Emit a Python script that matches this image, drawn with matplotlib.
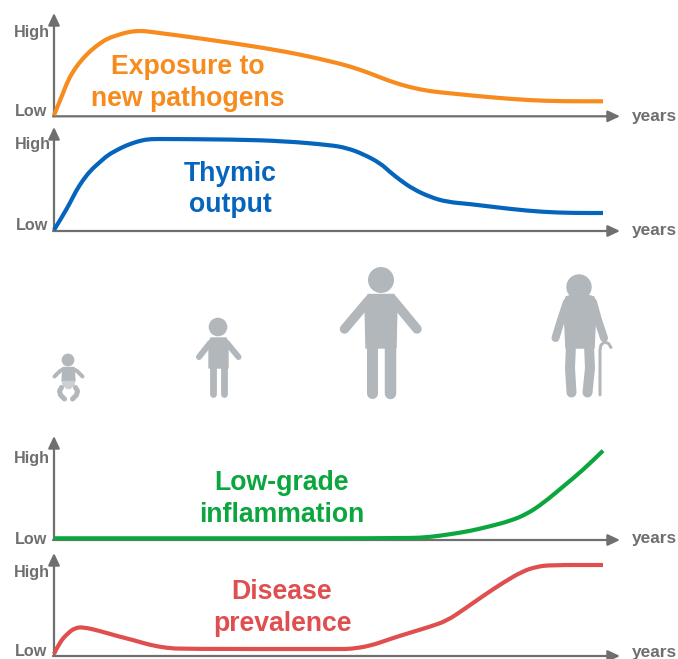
import matplotlib
matplotlib.use("Agg")
import matplotlib.pyplot as plt
from matplotlib.patches import Circle, PathPatch, Polygon
from matplotlib.path import Path

W, H = 678, 659
plt.rcParams["font.family"] = ["Liberation Sans", "DejaVu Sans"]
plt.rcParams["font.weight"] = "bold"

# curves: x = pixels right of the y axis, y = pixels above the x axis
exposure_x = [0, 4, 9, 14, 21, 29, 37, 46, 54, 63, 71, 79, 89, 100, 146, 213, 250, 276, 296, 316, 336, 356, 376, 396, 436, 476, 509, 549]
exposure_y = [1, 11, 23, 36, 48, 58, 66, 73, 78, 81, 83.5, 85, 85.5, 84, 78, 68, 61, 55, 50, 43, 35, 29, 25, 23, 19, 16, 15, 15]

thymic_x = [0, 8, 16, 22, 29, 37, 46, 54, 63, 71, 79, 87, 96, 113, 179, 229, 276, 293, 309, 326, 336, 346, 359, 376, 393, 416, 456, 489, 519, 549]
thymic_y = [1, 14, 28, 40, 51, 61, 69, 76, 81, 85, 88, 90.5, 92, 92, 91.5, 90, 86, 83, 77, 68, 59, 51, 42, 34, 29, 27, 22, 19, 18, 18]

inflam_x = [0, 200, 356, 376, 396, 416, 436, 456, 473, 489, 509, 529, 549]
inflam_y = [1.7, 1.7, 1.7, 3, 5.7, 9, 13.7, 19, 26, 36.7, 53.3, 70, 89.3]

disease_x = [0, 5, 14, 21, 29, 46, 63, 79, 96, 113, 129, 286, 296, 316, 336, 356, 376, 393, 409, 429, 449, 469, 483, 496, 549]
disease_y = [2, 13, 23, 28, 29, 25, 20, 16, 11, 8, 7, 7, 7, 10, 17, 23.3, 29.3, 35.3, 46, 60, 73.3, 85, 89.3, 91, 91]

panel_names = ["Exposure to\nnew pathogens", "Thymic\noutput", "Low-grade\ninflammation", "Disease\nprevalence"]
panel_colors = ["#F78B1E", "#0565BC", "#0CA63F", "#DF4F50"]

fig = plt.figure(figsize=(W / 100, H / 100), dpi=100)
ax = fig.add_axes([0, 0, 1, 1])
ax.set_xlim(0, W)
ax.set_ylim(H, 0)
ax.axis("off")

GREY = "#6F6F6F"
FIG = "#B2B7BC"
ARROW = dict(arrowstyle="-|>,head_width=0.34,head_length=0.72", color=GREY, lw=1.6, shrinkA=0, shrinkB=0)


def smooth_line(xs, ys, color):
    # quadratic segments through the midpoints of the read points
    verts = [(xs[0], ys[0])]
    codes = [Path.MOVETO]
    for i in range(1, len(xs) - 1):
        verts += [(xs[i], ys[i]), ((xs[i] + xs[i + 1]) / 2, (ys[i] + ys[i + 1]) / 2)]
        codes += [Path.CURVE3, Path.CURVE3]
    verts.append((xs[-1], ys[-1]))
    codes.append(Path.LINETO)
    ax.add_patch(PathPatch(Path(verts, codes), fill=False, edgecolor=color, lw=3.0, capstyle="butt", zorder=3))


def panel(x, y, oy, top, color, name, name_x, name_y, low_y, high_y, years_y, high_x, low_x):
    ax.annotate("", xy=(54, top), xytext=(54, oy), arrowprops=ARROW)
    ax.annotate("", xy=(620, oy), xytext=(53, oy), arrowprops=ARROW)
    smooth_line([54 + v for v in x], [oy - v for v in y], color)
    ax.text(name_x, name_y, name, color=color, fontsize=19.2, ha="center", va="center", linespacing=1.26)
    ax.text(high_x, high_y, "High", color=GREY, fontsize=11.6, ha="right", va="center")
    ax.text(low_x, low_y, "Low", color=GREY, fontsize=11.6, ha="right", va="center")
    ax.text(632, years_y, "years", color=GREY, fontsize=12.4, ha="left", va="center")


panel(exposure_x, exposure_y, 116.3, 13, panel_colors[0], panel_names[0], 188, 83, 112, 32, 116, 49.5, 47.5)
panel(thymic_x, thymic_y, 231, 127, panel_colors[1], panel_names[1], 230, 189.5, 225, 145, 230, 50.5, 48.5)
panel(inflam_x, inflam_y, 540, 436, panel_colors[2], panel_names[2], 282, 499, 539, 459, 538, 49.5, 47.5)
panel(disease_x, disease_y, 656, 553, panel_colors[3], panel_names[3], 282, 608, 652, 572, 652, 49.5, 47.5)


def limb(xs, ys, w, color=FIG):
    ax.plot(xs, ys, color=color, lw=w * 0.72, solid_capstyle="round", solid_joinstyle="round")


def head(cx, cy, r):
    ax.add_patch(Circle((cx, cy), r, color=FIG, lw=0))


def body(pts, color=FIG):
    ax.add_patch(Polygon(pts, closed=True, facecolor=color, edgecolor=color, lw=1, joinstyle="round"))


# baby
head(68, 360, 6.4)
body([(63, 367.5), (74, 367.5), (75, 381), (62, 381)])
body([(62.5, 381.5), (74.5, 381.5), (74, 385), (70, 388.5), (67, 388.5), (63, 385)], "#CDD0D3")
limb([64, 60, 54.5], [369, 371, 376.5], 4)
limb([73, 77, 82.5], [369, 371, 376.5], 4)
limb([61.5, 59.5, 60.5, 64.5], [387.5, 391, 395, 399], 5)
limb([75.5, 77.5, 76.5, 72.5], [387.5, 391, 395, 399], 5)

# child
head(218, 327, 9.3)
body([(211, 338), (226, 338), (228, 342), (228, 368), (209, 368), (209, 342)])
limb([210, 199], [343, 357], 6)
limb([227, 238.5], [343, 357], 6)
limb([213, 213], [362, 394], 6.8)
limb([224, 224], [362, 394], 6.8)

# adult
head(381, 280, 13)
body([(368, 294.5), (394, 294.5), (397, 302), (396, 348), (366, 348), (365, 302)])
limb([369, 344.5], [300, 329], 9.5)
limb([393, 417], [300, 329], 9.5)
limb([371.5, 371.5], [345, 392.5], 11)
limb([389.5, 389.5], [345, 392.5], 11.5)

# older adult
head(579, 287, 12.7)
body([(566, 297), (575, 294), (584, 294), (594, 297), (596, 308), (594, 348), (566, 348), (564, 308)])
limb([567, 561, 555.5], [302, 320, 338], 8)
limb([593, 598, 604], [302, 320, 338], 8)
limb([571, 570, 571.5], [345, 368, 392.5], 10)
limb([589, 590, 587.5], [345, 368, 392.5], 10)
limb([600, 600, 601, 604.5, 608.5, 611], [395, 350, 345, 342, 343.5, 347.5], 3)

fig.savefig("out.png", dpi=100)
